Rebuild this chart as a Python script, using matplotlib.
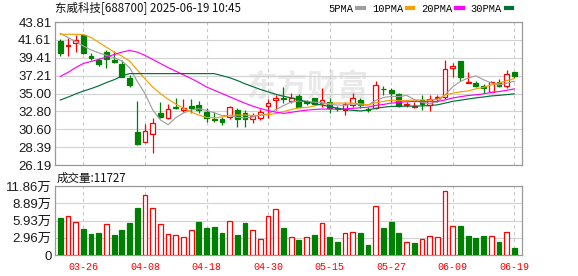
import matplotlib
matplotlib.use('Agg')
import matplotlib.pyplot as plt
from matplotlib.lines import Line2D
import numpy as np

plt.rcParams['font.family'] = ['Liberation Sans', 'Noto Sans CJK SC', 'DejaVu Sans']

# ---------------- data ----------------
dates = ['03-21', '03-24', '03-25', '03-26', '03-27', '03-28', '03-31', '04-01', '04-02', '04-03',
         '04-07', '04-08', '04-09', '04-10', '04-11', '04-14', '04-15', '04-16', '04-17', '04-18',
         '04-21', '04-22', '04-23', '04-24', '04-25', '04-28', '04-29', '04-30', '05-06', '05-07',
         '05-08', '05-09', '05-12', '05-13', '05-14', '05-15', '05-16', '05-19', '05-20', '05-21',
         '05-22', '05-23', '05-26', '05-27', '05-28', '05-29', '05-30', '06-03', '06-04', '06-05',
         '06-06', '06-09', '06-10', '06-11', '06-12', '06-13', '06-16', '06-17', '06-18', '06-19']

opens = [41.47, 40.85, 41.26, 42.21, 39.66, 39.13, 40.15, 39.13, 38.64, 36.85,
         30.20, 29.06, 29.97, 32.62, 31.94, 33.36, 32.97, 33.46, 33.58, 32.76,
         31.86, 31.86, 32.14, 32.97, 32.63, 31.82, 31.94, 33.46, 34.20, 34.48,
         34.08, 34.73, 33.90, 34.40, 33.79, 33.99, 33.18, 32.97, 33.58, 34.20,
         33.10, 33.25, 35.60, 35.45, 34.90, 33.55, 33.38, 34.20, 33.58, 34.40,
         34.55, 38.20, 39.00, 36.30, 36.33, 35.88, 35.20, 36.40, 35.96, 37.65]
highs = [41.72, 41.80, 42.21, 42.29, 39.95, 39.34, 40.36, 40.27, 39.13, 37.30,
         34.10, 31.25, 32.00, 33.99, 33.70, 34.44, 34.36, 34.30, 34.05, 33.18,
         32.76, 32.14, 33.46, 33.18, 32.97, 32.63, 33.05, 34.28, 34.81, 35.84,
         35.02, 34.94, 34.20, 34.48, 35.64, 34.48, 33.46, 33.99, 35.02, 34.40,
         33.30, 36.54, 35.96, 35.70, 35.02, 33.99, 33.99, 34.85, 34.85, 34.81,
         39.13, 38.72, 39.00, 37.61, 36.54, 36.18, 36.54, 36.82, 37.90, 37.69]
lows = [39.66, 39.66, 40.15, 39.90, 39.13, 38.43, 38.18, 38.80, 37.00, 35.78,
        28.70, 29.00, 27.70, 32.00, 31.90, 33.05, 32.76, 32.60, 32.60, 31.45,
        31.53, 31.12, 31.82, 30.91, 30.83, 31.33, 31.74, 31.94, 32.97, 33.79,
        33.79, 33.30, 33.58, 33.54, 33.38, 32.56, 32.88, 32.35, 33.38, 33.18,
        32.76, 33.09, 34.81, 34.00, 33.38, 33.38, 33.18, 33.00, 32.80, 33.99,
        34.35, 37.07, 36.60, 36.26, 35.76, 35.02, 35.15, 35.80, 35.72, 36.90]
closes = [39.95, 40.92, 41.59, 40.00, 39.41, 38.60, 39.30, 38.90, 37.07, 36.05,
          28.80, 30.38, 31.40, 32.10, 33.05, 33.18, 33.20, 33.25, 32.97, 32.02,
          31.70, 31.45, 33.30, 31.82, 31.80, 32.23, 32.68, 33.87, 34.40, 34.36,
          34.40, 33.38, 33.80, 33.67, 34.20, 33.18, 33.05, 33.67, 34.48, 33.58,
          32.95, 36.05, 35.50, 35.10, 33.50, 33.71, 33.50, 33.67, 34.35, 34.61,
          38.02, 38.43, 37.07, 36.38, 35.96, 35.64, 36.38, 35.96, 37.37, 37.20]
volumes = [6.30, 6.76, 5.62, 4.41, 3.55, 3.78, 5.27, 3.38, 4.30, 5.44,
           8.08, 10.26, 8.02, 5.27, 3.55, 3.38, 3.04, 4.24, 5.67, 4.64,
           4.81, 3.78, 5.79, 3.38, 5.44, 4.24, 2.69, 6.65, 7.85, 4.58,
           3.15, 2.58, 3.04, 3.38, 5.44, 3.04, 2.24, 3.72, 3.95, 3.78,
           1.72, 8.37, 4.64, 5.67, 3.78, 2.18, 2.06, 2.69, 3.21, 3.04,
           10.95, 4.93, 4.99, 3.27, 2.92, 3.27, 3.21, 2.24, 3.90, 1.17]

ma5 = [42.40, 41.90, 41.40, 40.85, 40.37, 40.00, 39.70, 39.40, 39.00, 38.20,
       36.50, 35.00, 33.00, 31.75, 31.15, 32.02, 32.59, 32.96, 33.13, 32.92,
       32.63, 32.28, 32.29, 32.06, 32.01, 32.12, 32.37, 32.48, 33.00, 33.51,
       33.94, 34.08, 34.07, 33.92, 33.89, 33.65, 33.58, 33.55, 33.72, 33.59,
       33.55, 34.15, 34.51, 34.64, 34.62, 34.77, 34.26, 33.90, 33.75, 33.97,
       34.83, 35.82, 36.50, 36.90, 37.17, 36.70, 36.29, 36.06, 36.26, 36.51]
ma10 = [42.30, 42.30, 42.30, 42.25, 41.90, 41.30, 40.70, 40.10, 39.60, 39.00,
        37.90, 36.80, 35.80, 35.00, 34.30, 33.70, 33.20, 32.70, 32.35, 32.05,
        32.00, 32.10, 32.30, 32.35, 32.35, 32.30, 32.30, 32.38, 32.53, 32.76,
        33.03, 33.22, 33.27, 33.46, 33.70, 33.79, 33.83, 33.81, 33.82, 33.74,
        33.60, 33.86, 34.03, 34.18, 34.11, 34.16, 34.20, 34.20, 34.19, 34.29,
        34.80, 35.04, 35.20, 35.32, 35.57, 35.76, 36.05, 36.28, 36.58, 36.84]
ma20 = [37.10, 37.60, 38.20, 38.70, 38.95, 39.20, 39.50, 39.80, 40.10, 40.30,
        40.10, 39.70, 39.20, 38.70, 38.20, 37.75, 37.30, 36.85, 36.35, 35.80,
        35.40, 35.00, 34.60, 34.20, 33.80, 33.45, 33.15, 32.90, 32.70, 32.55,
        32.68, 32.83, 32.95, 33.03, 33.08, 33.08, 33.08, 33.10, 33.17, 33.25,
        33.31, 33.54, 33.65, 33.82, 33.90, 33.98, 34.02, 34.01, 34.00, 34.02,
        34.20, 34.45, 34.61, 34.75, 34.84, 34.96, 35.13, 35.24, 35.39, 35.57]
ma30 = [34.20, 34.55, 34.95, 35.30, 35.60, 35.95, 36.35, 36.70, 37.15, 37.45,
        37.45, 37.45, 37.45, 37.45, 37.45, 37.45, 37.45, 37.45, 37.45, 37.45,
        37.45, 37.20, 36.95, 36.60, 36.20, 35.85, 35.50, 35.20, 34.90, 34.66,
        34.47, 34.22, 33.96, 33.75, 33.58, 33.40, 33.19, 33.01, 32.93, 32.85,
        32.98, 33.17, 33.31, 33.41, 33.42, 33.44, 33.45, 33.47, 33.51, 33.60,
        33.81, 34.04, 34.17, 34.32, 34.46, 34.57, 34.70, 34.77, 34.86, 34.96]

price_ticks = [26.19, 28.39, 30.60, 32.80, 35.00, 37.21, 39.41, 41.61, 43.81]
price_tick_labels = ['26.19', '28.39', '30.60', '32.80', '35.00', '37.21', '39.41', '41.61', '43.81']
vol_ticks = [0, 2.96, 5.93, 8.89, 11.86]
vol_tick_labels = ['0', '2.96万', '5.93万', '8.89万', '11.86万']
date_ticks = ['03-26', '04-08', '04-18', '04-30', '05-15', '05-27', '06-09', '06-19']
ma_labels = ['5PMA', '10PMA', '20PMA', '30PMA']
title_text = '东威科技[688700] 2025-06-19 10:45'
vol_title = '成交量:11727'
watermark = '东方财富'

# ---------------- style ----------------
RED = '#ff0000'
GREEN = '#008000'
MA_COLORS = ['#a0a0a0', '#f5a000', '#ff00ff', '#00703a']
GRID = '#d2d2d2'
SPINE = '#9a9a9a'
LABEL = '#1a1a1a'

W, H = 578, 276
fig = plt.figure(figsize=(W / 100, H / 100), dpi=100)
fig.patch.set_facecolor('white')

L, R = 55, 522.3
ax = fig.add_axes([L / W, 1 - 165 / H, (R - L) / W, (165 - 22) / H])
axv = fig.add_axes([L / W, 1 - 255 / H, (R - L) / W, (255 - 186) / H])

x = np.arange(len(dates))
o = np.array(opens)
h = np.array(highs)
lo = np.array(lows)
c = np.array(closes)
v = np.array(volumes)
up = c >= o
bw = 0.62

# candles
ax.vlines(x[up], lo[up], h[up], color=RED, lw=0.9, zorder=2)
ax.vlines(x[~up], lo[~up], h[~up], color=GREEN, lw=0.9, zorder=2)
body_b = np.minimum(o, c)
body_h = np.maximum(np.abs(c - o), 0.1)
ax.bar(x[up], body_h[up], bottom=body_b[up], width=bw, facecolor='white',
       edgecolor=RED, lw=0.9, zorder=3)
ax.bar(x[~up], body_h[~up], bottom=body_b[~up], width=bw, facecolor=GREEN,
       edgecolor=GREEN, lw=0.9, zorder=3)

# moving averages
for vals, col in zip([ma5, ma10, ma20, ma30], MA_COLORS):
    ax.plot(x, vals, color=col, lw=0.85, zorder=4)

# watermark
ax.text(0.54, 0.55, watermark, transform=ax.transAxes, fontsize=22,
        family=['Noto Sans CJK SC'], fontweight='bold', color='#e9e9e9',
        ha='center', va='center', zorder=0.5)

# volume bars (colour by change vs previous close)
prev = np.concatenate([[o[0]], c[:-1]])
vup = c >= prev
axv.bar(x[vup], v[vup], width=bw, facecolor='white', edgecolor=RED, lw=0.9, zorder=3)
axv.bar(x[~vup], v[~vup], width=bw, facecolor=GREEN, edgecolor=GREEN, lw=0.9, zorder=3)

xlim = (-0.69, len(dates) - 1 + 1.04)
tick_idx = [dates.index(d) for d in date_ticks]

for a in (ax, axv):
    a.set_xlim(*xlim)
    a.set_xticks(tick_idx)
    a.xaxis.grid(True, color='#c8c8c8', lw=0.8, linestyle=(0, (3, 3)), zorder=0)
    a.yaxis.grid(True, color=GRID, lw=0.8, linestyle='-', zorder=0)
    a.set_axisbelow(True)
    for s in a.spines.values():
        s.set_color(SPINE)
        s.set_linewidth(0.9)
    a.tick_params(length=0)
    a.set_facecolor('white')

ax.set_ylim(26.19, 43.81)
ax.set_yticks(price_ticks)
ax.set_yticklabels(price_tick_labels, fontsize=9.5, color=LABEL)
ax.tick_params(axis='y', pad=2.5)
ax.set_xticklabels([])

axv.set_ylim(0, 11.86)
axv.set_yticks(vol_ticks)
axv.set_yticklabels(vol_tick_labels, fontsize=9.5, color=LABEL)
axv.tick_params(axis='y', pad=2.5)
axv.set_xticklabels(date_ticks, fontsize=7.2, color=RED, family=['Liberation Mono'])
axv.tick_params(axis='x', pad=5)

# title and volume caption
fig.text(L / W, 1 - 8.5 / H, title_text, fontsize=8.3, family=['Noto Sans CJK SC'],
         color='#111111', ha='left', va='center')
fig.text(57 / W, 1 - 178 / H, vol_title, fontsize=8.3, family=['Noto Sans CJK SC'],
         color='#111111', ha='left', va='center')

# legend
handles = [Line2D([], [], color=col, lw=3) for col in MA_COLORS]
fig.legend(handles, ma_labels, loc='center right', bbox_to_anchor=(512 / W, 1 - 8.5 / H),
           ncol=4, markerfirst=False, frameon=False, handlelength=0.6,
           handletextpad=0.35, columnspacing=0.8, borderpad=0, borderaxespad=0,
           prop={'family': 'Liberation Mono', 'size': 7.5})

fig.savefig('out.png', dpi=100, facecolor='white')
